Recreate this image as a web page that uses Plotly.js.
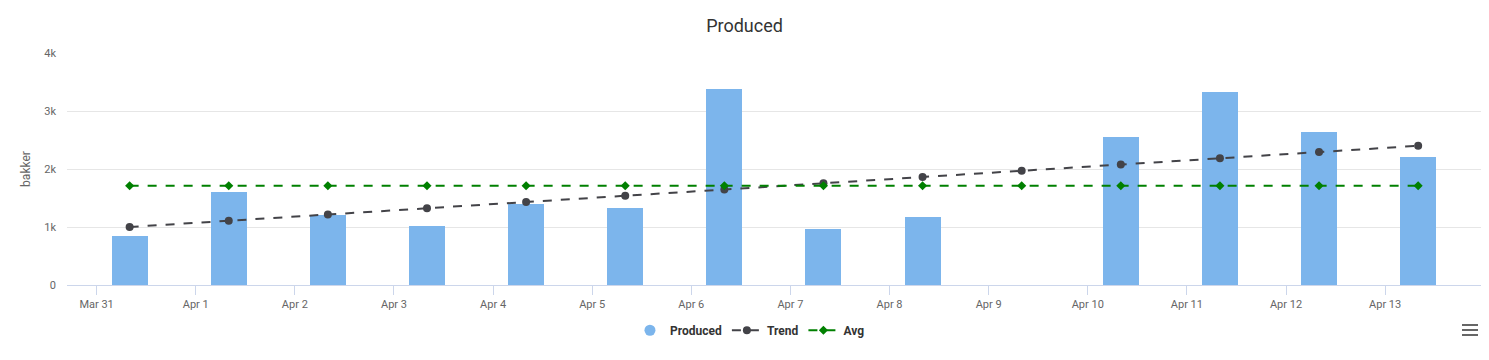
<!DOCTYPE html>
<html>
<head>
<meta charset="utf-8">
<script src="https://cdn.plot.ly/plotly-3.0.1.min.js"></script>
<style>
html,body{margin:0;padding:0;background:#fff;}
#chart{width:1489px;height:360px;}
</style>
</head>
<body>
<div id="chart"></div>
<script>
const dates = ['2024-03-31 08:00','2024-04-01 08:00','2024-04-02 08:00','2024-04-03 08:00','2024-04-04 08:00','2024-04-05 08:00','2024-04-06 08:00','2024-04-07 08:00','2024-04-08 08:00','2024-04-09 08:00','2024-04-10 08:00','2024-04-11 08:00','2024-04-12 08:00','2024-04-13 08:00'];
const produced = [845, 1605, 1210, 1015, 1400, 1330, 3375, 965, 1175, null, 2560, 3320, 2630, 2215];
const trend = [1000, 1108, 1215, 1323, 1431, 1538, 1646, 1754, 1862, 1969, 2077, 2185, 2292, 2400];
const avg = [1710, 1710, 1710, 1710, 1710, 1710, 1710, 1710, 1710, 1710, 1710, 1710, 1710, 1710];
const yTickVals = [0, 1000, 2000, 3000, 4000];
const yTickText = ['0', '1k', '2k', '3k', '4k'];

const font = 'Roboto, "Open Sans", sans-serif';
const barColor = '#7cb5ec';

const traces = [
  {
    type: 'bar', x: dates, y: produced, name: 'Produced',
    marker: {color: barColor}, width: 0.363 * 86400000,
    showlegend: false, hoverinfo: 'x+y'
  },
  {
    type: 'scatter', mode: 'markers', x: [null], y: [null], name: 'Produced',
    marker: {color: barColor, size: 11, symbol: 'circle'}, showlegend: true
  },
  {
    type: 'scatter', mode: 'lines+markers', x: dates, y: trend, name: 'Trend',
    line: {color: '#434348', width: 2, dash: 'dash'},
    marker: {color: '#434348', size: 8, symbol: 'circle'}
  },
  {
    type: 'scatter', mode: 'lines+markers', x: dates, y: avg, name: 'Avg',
    line: {color: '#008000', width: 2, dash: 'dash'},
    marker: {color: '#008000', size: 7, symbol: 'diamond'}
  }
];

const layout = {
  width: 1489, height: 360,
  margin: {l: 67, r: 8, t: 53, b: 75, pad: 0},
  paper_bgcolor: '#ffffff', plot_bgcolor: '#ffffff',
  font: {family: font, color: '#666666', size: 11},
  title: {text: 'Produced', font: {family: font, size: 18, color: '#333333'}, x: 0.5, xanchor: 'center', y: 0.93, yanchor: 'middle'},
  showlegend: true,
  legend: {orientation: 'h', x: 0.483, xanchor: 'center', y: -0.195, yanchor: 'middle',
    font: {family: font, size: 12, color: '#333333', weight: 'bold'}, itemwidth: 30, tracegroupgap: 0},
  bargap: 0,
  xaxis: {
    type: 'date', range: ['2024-03-30 16:50', '2024-04-13 23:13'],
    tick0: '2024-03-31', dtick: 86400000, tickformat: '%b %-d',
    showgrid: false, zeroline: false,
    showline: true, linecolor: '#ccd6eb', linewidth: 1,
    ticks: 'outside', ticklen: 9, tickcolor: '#ccd6eb', tickwidth: 1,
    tickfont: {family: font, size: 11, color: '#666666'}
  },
  yaxis: {
    range: [0, 4000], tickvals: yTickVals, ticktext: yTickText,
    showgrid: true, gridcolor: '#e6e6e6', gridwidth: 1, zeroline: false,
    showline: false, ticks: '', ticklabelstandoff: 10,
    tickfont: {family: font, size: 11, color: '#666666'},
    title: {text: 'bakker', font: {family: font, size: 12, color: '#666666'}, standoff: 11}
  },
  shapes: [0, 1, 2].map(i => ({
    type: 'line', xref: 'paper', yref: 'paper',
    x0: (1462 - 67) / 1414, x1: (1478 - 67) / 1414,
    y0: (285 - (325 + i * 5)) / 232, y1: (285 - (325 + i * 5)) / 232,
    line: {color: '#666666', width: 2}
  }))
};

Plotly.newPlot('chart', traces, layout, {displayModeBar: false, staticPlot: false});
</script>
</body>
</html>
